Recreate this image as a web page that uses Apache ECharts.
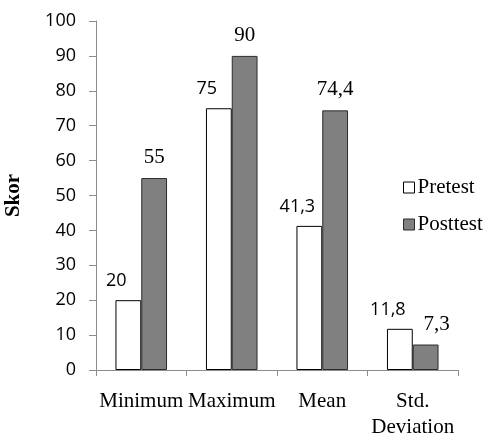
<!DOCTYPE html>
<html>
<head>
<meta charset="utf-8">
<script src="https://cdn.jsdelivr.net/npm/echarts@6/dist/echarts.min.js"></script>
<style>
  html, body { margin: 0; padding: 0; background: #ffffff; }
  #chart { width: 485px; height: 437px; }
</style>
</head>
<body>
<div id="chart"></div>
<script>
// Score summary: pretest vs posttest
const categories = ['Minimum', 'Maximum', 'Mean', 'Std.\nDeviation'];
const pretest = [20, 75, 41.3, 11.8];
const posttest = [55, 90, 74.4, 7.3];
const yTicks = { min: 0, max: 100, interval: 10 };

// Labels use a decimal comma
const fmt = v => String(v).replace('.', ',');

const serif = '"Liberation Serif", "Times New Roman", serif';
const sans = '"Open Sans", "Liberation Sans", sans-serif';

const preLabel = { show: true, position: 'top', distance: 10, fontFamily: sans, fontSize: 18, color: '#000000', formatter: p => fmt(p.value) };
const postLabel = { show: true, position: 'top', distance: 10, fontFamily: serif, fontSize: 21, color: '#000000', formatter: p => fmt(p.value) };

const chart = echarts.init(document.getElementById('chart'), null, { renderer: 'canvas' });

chart.setOption({
  animation: false,
  backgroundColor: '#ffffff',
  grid: { left: 96, right: 27, top: 21, bottom: 67, containLabel: false, outerBoundsMode: 'none' },
  legend: {
    orient: 'vertical',
    left: 403,
    top: 177,
    padding: 0,
    icon: 'rect',
    itemWidth: 11,
    itemHeight: 11,
    itemGap: 16,
    textStyle: { fontFamily: serif, fontSize: 21, color: '#000000', padding: [0, 0, 0, -2] },
    data: [
      { name: 'Pretest', itemStyle: { color: '#ffffff', borderColor: '#000000', borderWidth: 1 } },
      { name: 'Posttest', itemStyle: { color: '#808080', borderColor: '#2b2b2b', borderWidth: 1 } }
    ]
  },
  xAxis: {
    type: 'category',
    data: categories,
    axisLine: { lineStyle: { color: '#8c8c8c', width: 1 } },
    axisTick: { show: true, length: 6, lineStyle: { color: '#8c8c8c' } },
    axisLabel: {
      fontFamily: serif, fontSize: 21, color: '#000000', margin: 18,
      lineHeight: 26, interval: 0
    }
  },
  yAxis: {
    type: 'value',
    min: yTicks.min,
    max: yTicks.max,
    interval: yTicks.interval,
    name: 'Skor',
    nameLocation: 'middle',
    nameRotate: 90,
    nameGap: 72,
    nameTextStyle: { fontFamily: serif, fontSize: 21, fontWeight: 'bold', color: '#000000' },
    splitLine: { show: false },
    axisLine: { show: true, lineStyle: { color: '#8c8c8c', width: 1 } },
    axisTick: { show: true, length: 7, lineStyle: { color: '#8c8c8c' } },
    axisLabel: { fontFamily: sans, fontSize: 18, color: '#000000', margin: 20 }
  },
  series: [
    {
      name: 'Pretest',
      type: 'bar',
      data: pretest.map(v => ({ value: v, label: Object.assign({}, preLabel, { offset: [-12, 0] }) })),
      barGap: '0%',
      barCategoryGap: '43%',
      itemStyle: { color: '#ffffff', borderColor: '#000000', borderWidth: 1 },
      label: preLabel
    },
    {
      name: 'Posttest',
      type: 'bar',
      data: posttest.map((v, i) => ({ value: v, label: Object.assign({}, postLabel, { offset: [i === 3 ? 11 : 0, 0] }) })),
      barGap: '0%',
      barCategoryGap: '43%',
      itemStyle: { color: '#808080', borderColor: '#2b2b2b', borderWidth: 1 },
      label: postLabel
    }
  ]
});
</script>
</body>
</html>
